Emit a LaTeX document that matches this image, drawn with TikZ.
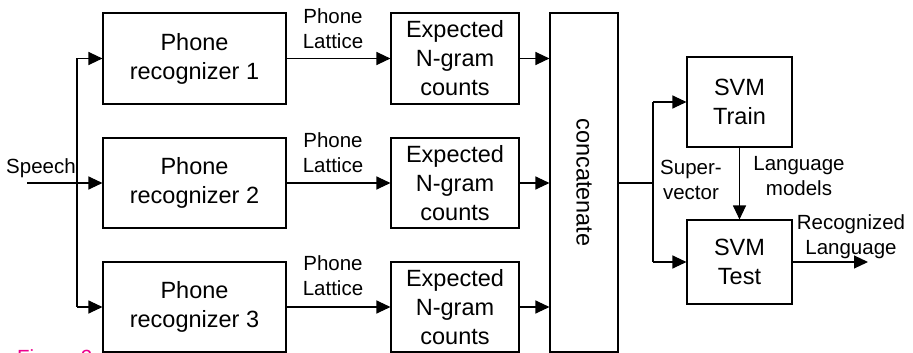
\documentclass[tikz,border=0pt]{standalone}
\usepackage{fontspec}
\setmainfont{Liberation Sans}
\usetikzlibrary{arrows.meta}
\begin{document}
\begin{tikzpicture}[x=1pt,y=-1pt,
  box/.style={draw,line width=1.1pt,inner sep=0pt,align=center,font=\fontsize{23.5}{29}\selectfont},
  lbl/.style={align=center,inner sep=0pt,font=\fontsize{20.5}{25}\selectfont},
  conn/.style={line width=1.1pt},
  arr/.style={conn,-{Triangle[length=14pt,width=13pt]}}]
\useasboundingbox (0,0) rectangle (913,353);
\clip (0,0) rectangle (913,353);
% phone recognizers
\node[box,minimum width=183pt,minimum height=91pt] (p1) at (194.5,58.5) {Phone\\recognizer 1};
\node[box,minimum width=183pt,minimum height=90pt] (p2) at (194.5,183) {Phone\\recognizer 2};
\node[box,minimum width=183pt,minimum height=90pt] (p3) at (194.5,307) {Phone\\recognizer 3};
% expected counts
\node[box,minimum width=128pt,minimum height=91pt] (e1) at (455,58.5) {Expected\\N-gram\\counts};
\node[box,minimum width=128pt,minimum height=90pt] (e2) at (455,183) {Expected\\N-gram\\counts};
\node[box,minimum width=128pt,minimum height=90pt] (e3) at (455,307) {Expected\\N-gram\\counts};
% concatenate
\node[box,minimum width=68pt,minimum height=339pt] (cc) at (584,182.5) {};
\node[font=\fontsize{23.5}{29}\selectfont,rotate=-90,inner sep=0pt] (cct) at (cc.center) {concatenate};
% SVM
\node[box,minimum width=105pt,minimum height=90pt] (tr) at (739.5,102) {SVM\\Train};
\node[box,minimum width=105pt,minimum height=84pt] (te) at (739.5,262) {SVM\\Test};
% speech input
\coordinate (sp) at (27,183);
\coordinate (sv) at (77,183);
\coordinate (out) at (868,262);
\coordinate (jn) at (653,183);
\node[lbl,anchor=west] (speech) at (6,168) {Speech};
\draw[arr] (sp) -- (p2.west);
\draw[conn] (sv |- p1.west) -- (sv |- p3.west);
\draw[arr] (sv |- p1.west) -- (p1.west);
\draw[arr] (sv |- p3.west) -- (p3.west);
% lattices
\draw[arr] (p1.east) -- (e1.west);
\draw[arr] (p2.east) -- (e2.west);
\draw[arr] (p3.east) -- (e3.west);
\node[lbl] (l1) at (333,29) {Phone\\Lattice};
\node[lbl] (l2) at (333,153) {Phone\\Lattice};
\node[lbl] (l3) at (333,276) {Phone\\Lattice};
% to concat
\draw[arr] (e1.east) -- (e1.east -| cc.west);
\draw[arr] (e2.east) -- (e2.east -| cc.west);
\draw[arr] (e3.east) -- (e3.east -| cc.west);
% supervector
\draw[conn] (cc.east |- jn) -- (jn);
\draw[conn] (jn |- tr.west) -- (jn |- te.west);
\draw[arr] (jn |- tr.west) -- (tr.west);
\draw[arr] (jn |- te.west) -- (te.west);
\node[lbl] (sv2) at (691,180) {Super-\\vector};
\draw[arr] (tr.south) -- (te.north);
\node[lbl] (lm) at (799,176) {Language\\models};
\draw[arr] (te.east) -- (out);
\node[lbl] (rl) at (851,237) {Recognized\\Language};
% caption (cut off)
\node[anchor=north west,inner sep=0pt,text=magenta,font=\fontsize{20.5}{25}\selectfont] (fig) at (17,349) {Figure 2};
\end{tikzpicture}
\end{document}
